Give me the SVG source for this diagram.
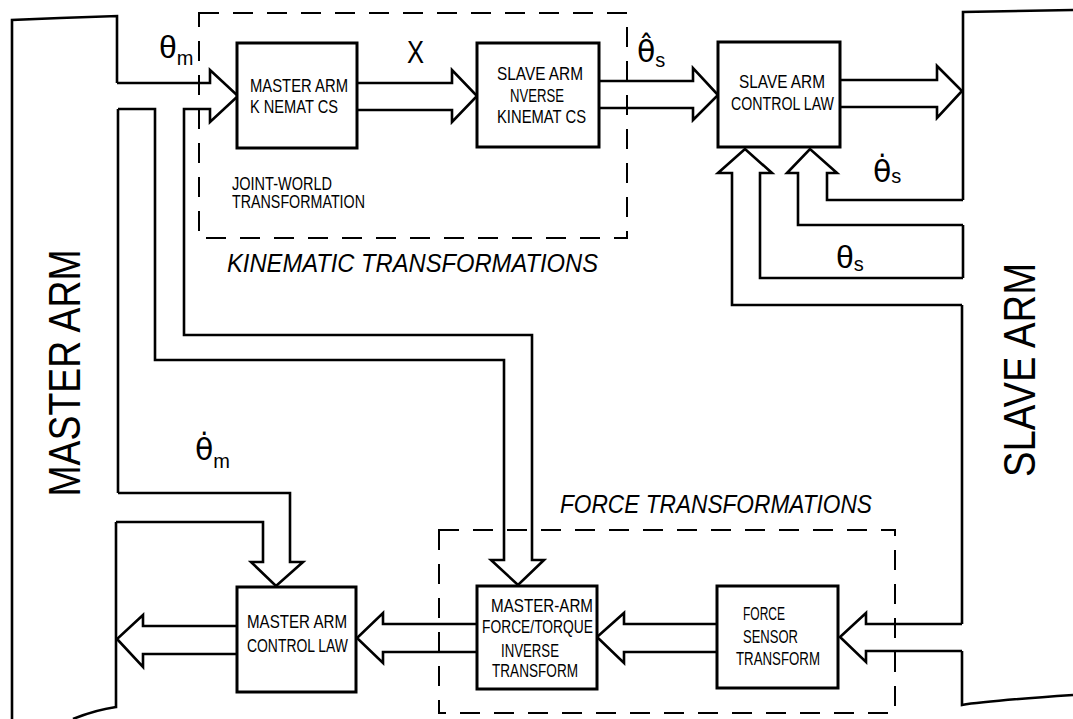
<svg xmlns="http://www.w3.org/2000/svg" width="1073" height="719" viewBox="0 0 1073 719">
<style>
.ln{fill:none;stroke:#000;stroke-width:2.6;stroke-linejoin:miter}
.blk{fill:#fff;stroke:#000;stroke-width:3}
.dash{fill:none;stroke:#000;stroke-width:2;stroke-dasharray:20 14}
.t{font-family:"Liberation Sans",Arial,sans-serif;font-size:18px;fill:#000}
.it{font-family:"Liberation Sans",Arial,sans-serif;font-style:italic;font-size:26px;fill:#000}
.big{font-family:"Liberation Sans",Arial,sans-serif;font-size:44px;fill:#000}
.g{font-family:"Liberation Sans",Arial,sans-serif;font-size:32px;fill:#000}
.gd{font-family:"DejaVu Sans",sans-serif;font-size:30px;fill:#000}
.sub{font-family:"Liberation Sans",Arial,sans-serif;font-size:20px}
</style>
<rect width="1073" height="719" fill="#fff"/>
<g id="kinematic-transformations">
<rect class="dash" x="199" y="13" width="428" height="225"/>
<text class="it" x="227" y="272" textLength="371" lengthAdjust="spacingAndGlyphs">KINEMATIC TRANSFORMATIONS</text>
<text class="t" x="232" y="190" textLength="100" lengthAdjust="spacingAndGlyphs">JOINT-WORLD</text>
<text class="t" x="232" y="208" textLength="133" lengthAdjust="spacingAndGlyphs">TRANSFORMATION</text>
</g>
<g id="force-transformations">
<rect class="dash" x="439" y="530" width="456" height="183"/>
<text class="it" x="560" y="513" textLength="312" lengthAdjust="spacingAndGlyphs">FORCE TRANSFORMATIONS</text>
</g>
<g id="master-arm">
<path class="ln" d="M117,83 L117,16 L60,18 L12,20 L12,719 M118,109 L118,493 M116,522 L116,707 Q95,710 73,719"/>
<text class="big" transform="translate(80,373) rotate(-90)" text-anchor="middle" textLength="247" lengthAdjust="spacingAndGlyphs">MASTER ARM</text>
</g>
<g id="slave-arm">
<path class="ln" d="M1073,10 L963,12 L963,200 M963,225 L963,278 M962,305 L962,624 M962,651 L962,705 Q985,701 1073,695"/>
<text class="big" transform="translate(1035,370) rotate(-90)" text-anchor="middle" textLength="214" lengthAdjust="spacingAndGlyphs">SLAVE ARM</text>
</g>
<g id="connectors">
<path class="ln" d="M117,83 L210,83 L210,70 L238,96 L210,122 L210,109 L184,109 L184,335 L532,335 L532,560 L544,560 L518,585 L491,560 L504,560 L504,360 L155,360 L155,109 L118,109"/>
<path class="ln" d="M118,493 L290,493 L290,562 L303,562 L276,586 L251,562 L263,562 L263,522 L116,522"/>
<path class="ln" d="M357,83 L452,83 L452,70 L477,96 L452,122 L452,110 L357,110"/>
<path class="ln" d="M599,81 L693,81 L693,68 L718,95 L693,120 L693,108 L599,108"/>
<path class="ln" d="M840,80 L937,80 L937,66 L962,91 L937,118 L937,107 L840,107"/>
<path class="ln" d="M963,200 L827,200 L827,173 L837,173 L810,149 L787,173 L798,173 L798,225 L963,225"/>
<path class="ln" d="M963,278 L760,278 L760,173 L772,173 L745,149 L718,173 L732,173 L732,305 L962,305"/>
<path class="ln" d="M962,624 L866,624 L866,613 L840,637 L866,662 L866,651 L962,651"/>
<path class="ln" d="M717,624 L624,624 L624,613 L597,637 L624,663 L624,652 L717,652"/>
<path class="ln" d="M477,624 L383,624 L383,613 L357,638 L383,663 L383,652 L477,652"/>
<path class="ln" d="M237,626 L143,626 L143,615 L117,639 L143,667 L143,654 L237,654"/>
</g>
<g id="labels">
<text class="g" x="159" y="58">θ<tspan class="sub" dy="7">m</tspan></text>
<text class="g" x="407" y="63" textLength="17" lengthAdjust="spacingAndGlyphs">X</text>
<text class="gd" x="637" y="62">θ̂<tspan class="sub" dy="5">s</tspan></text>
<text class="gd" x="195" y="460">θ̇<tspan class="sub" dy="8">m</tspan></text>
<text class="gd" x="873" y="182">θ̇<tspan class="sub" dy="1">s</tspan></text>
<text class="g" x="836" y="268">θ<tspan class="sub" dy="3">s</tspan></text>
</g>
<g id="master-arm-kinematics">
<rect class="blk" x="237" y="43" width="120" height="105"/>
<text class="t" x="250" y="92" textLength="98" lengthAdjust="spacingAndGlyphs">MASTER ARM</text>
<text class="t" x="250" y="113" textLength="88" lengthAdjust="spacingAndGlyphs">K NEMAT CS</text>
</g>
<g id="slave-arm-inverse-kinematics">
<rect class="blk" x="477" y="43" width="122" height="104"/>
<text class="t" x="497" y="80" textLength="86" lengthAdjust="spacingAndGlyphs">SLAVE ARM</text>
<text class="t" x="510" y="102" textLength="54" lengthAdjust="spacingAndGlyphs">NVERSE</text>
<text class="t" x="497" y="123" textLength="89" lengthAdjust="spacingAndGlyphs">KINEMAT CS</text>
</g>
<g id="slave-arm-control-law">
<rect class="blk" x="718" y="42" width="122" height="105"/>
<text class="t" x="739" y="88" textLength="86" lengthAdjust="spacingAndGlyphs">SLAVE ARM</text>
<text class="t" x="731" y="110" textLength="103" lengthAdjust="spacingAndGlyphs">CONTROL LAW</text>
</g>
<g id="master-arm-control-law">
<rect class="blk" x="237" y="587" width="119" height="105"/>
<text class="t" x="247" y="628" textLength="100" lengthAdjust="spacingAndGlyphs">MASTER ARM</text>
<text class="t" x="247" y="652" textLength="101" lengthAdjust="spacingAndGlyphs">CONTROL LAW</text>
</g>
<g id="force-torque-inverse-transform">
<rect class="blk" x="477" y="586" width="120" height="103"/>
<text class="t" x="491" y="612" textLength="102" lengthAdjust="spacingAndGlyphs">MASTER-ARM</text>
<text class="t" x="482" y="633" textLength="111" lengthAdjust="spacingAndGlyphs">FORCE/TORQUE</text>
<text class="t" x="501" y="657" textLength="58" lengthAdjust="spacingAndGlyphs">INVERSE</text>
<text class="t" x="492" y="677" textLength="86" lengthAdjust="spacingAndGlyphs">TRANSFORM</text>
</g>
<g id="force-sensor-transform">
<rect class="blk" x="717" y="586" width="121" height="102"/>
<text class="t" x="743" y="620" textLength="42" lengthAdjust="spacingAndGlyphs">FORCE</text>
<text class="t" x="743" y="643" textLength="55" lengthAdjust="spacingAndGlyphs">SENSOR</text>
<text class="t" x="736" y="665" textLength="84" lengthAdjust="spacingAndGlyphs">TRANSFORM</text>
</g>
</svg>
